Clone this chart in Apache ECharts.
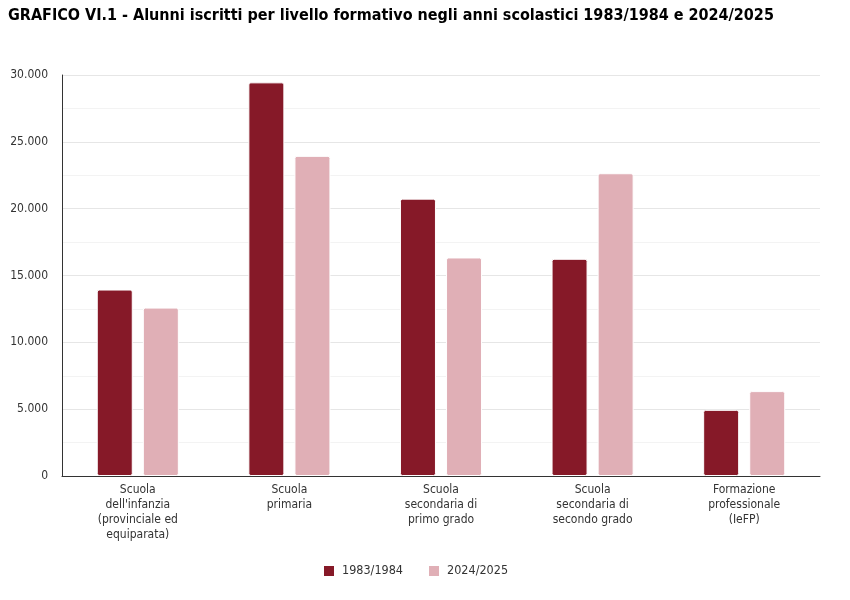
<!DOCTYPE html>
<html><head><meta charset="utf-8">
<script src="https://cdn.jsdelivr.net/npm/echarts@6/dist/echarts.min.js"></script>
<style>html,body{margin:0;padding:0;background:#fff}#c{width:850px;height:600px}</style>
</head><body><div id="c"></div>
<script>
const categories = ["Scuola\ndell'infanzia\n(provinciale ed\nequiparata)", "Scuola\nprimaria", "Scuola\nsecondaria di\nprimo grado", "Scuola\nsecondaria di\nsecondo grado", "Formazione\nprofessionale\n(IeFP)"];
const seriesNames = ["1983/1984", "2024/2025"];
const values1983 = [13950, 29450, 20750, 16250, 4950];
const values2024 = [12600, 23950, 16350, 22650, 6350];
const colors = ["#861928", "#e0afb6"];
const fmt = v => v === 0 ? '0' : String(v).replace(/\B(?=(\d{3})+(?!\d))/g, '.');
const chart = echarts.init(document.getElementById('c'));
const font = 'Tahoma, "DejaVu Sans Condensed", "DejaVu Sans", sans-serif';
chart.setOption({
  animation: false,
  textStyle: {fontFamily: font},
  title: {text: 'GRAFICO VI.1 - Alunni iscritti per livello formativo negli anni scolastici 1983/1984 e 2024/2025', left: 3, top: 3,
    textStyle: {fontFamily: font, fontSize: 16, fontWeight: 'bold', color: '#000'}},
  legend: {top: 559, left: 317, itemWidth: 12, itemHeight: 12, itemGap: 24, icon: 'rect',
    textStyle: {fontFamily: font, fontSize: 12.5, color: '#333', padding: [0, 0, 0, 2]}, data: seriesNames},
  grid: {left: 62, right: 30, top: 75, bottom: 124},
  xAxis: {type: 'category', data: categories,
    axisLine: {lineStyle: {color: '#333'}}, axisTick: {show: false},
    axisLabel: {interval: 0, fontFamily: font, fontSize: 12, color: '#333', lineHeight: 15, margin: 6}},
  yAxis: {type: 'value', min: 0, max: 30000, interval: 5000,
    axisLine: {show: true, lineStyle: {color: '#333'}},
    axisLabel: {formatter: fmt, fontFamily: font, fontSize: 12, color: '#333', margin: 14},
    splitLine: {lineStyle: {color: '#e6e6e6'}},
    minorTick: {show: false, splitNumber: 2},
    minorSplitLine: {show: true, lineStyle: {color: '#f3f3f3'}}},
  series: [
    {name: seriesNames[0], type: 'bar', data: values1983, barWidth: 36, barGap: '28%',
      itemStyle: {color: colors[0], borderColor: '#fff', borderWidth: 1, borderRadius: 2}},
    {name: seriesNames[1], type: 'bar', data: values2024, barWidth: 36,
      itemStyle: {color: colors[1], borderColor: '#fff', borderWidth: 1, borderRadius: 2}}
  ]
});
</script></body></html>
